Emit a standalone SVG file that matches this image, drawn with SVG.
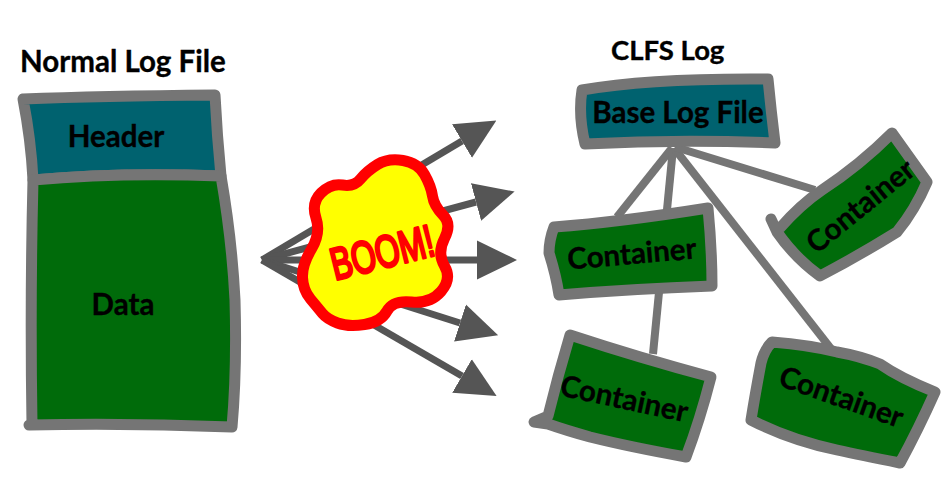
<svg xmlns="http://www.w3.org/2000/svg" width="944" height="494" viewBox="0 0 944 494">
<style>
text{font-family:"Lato","Open Sans","Liberation Sans",sans-serif;font-weight:700;fill:#000;stroke:#000;stroke-width:.35;font-size:29.5px}
.m{text-anchor:middle}
.edge{stroke:#757575;stroke-width:11;stroke-linejoin:round;stroke-linecap:round}
.teal{fill:#00626f}
.green{fill:#006b0a}
.link{stroke:#757575;stroke-width:8;fill:none}
.shot{stroke:#555;stroke-width:7;fill:none;marker-end:url(#head)}
</style>
<defs>
<marker id="head" markerUnits="userSpaceOnUse" markerWidth="40" markerHeight="40" refX="0" refY="20" orient="auto" viewBox="0 0 40 40"><path d="M0 0.5L40 20L0 39.5Z" fill="#555"/></marker>
</defs>
<rect width="944" height="494" fill="#fff"/>
<g id="connectors">
<path class="shot" d="M262 260L462 141"/>
<path class="shot" d="M262 260L476 202"/>
<path class="shot" d="M262 260L477 260"/>
<path class="shot" d="M262 260L460 323"/>
<path class="shot" d="M262 260L462 376"/>
<path class="link" d="M672 148L617 217"/>
<path class="link" d="M673 148L653 354"/>
<path class="link" d="M674 148L832 350"/>
<path class="link" d="M675 147L815 190"/>
</g>
<text x="20" y="72">Normal Log File</text>
<text x="611" y="60" style="font-size:27.5px">CLFS Log</text>
<g id="normal-log-file">
<path class="teal edge" d="M23 99Q100 96 215 95Q217 135 221 176Q120 172 33 180Q31 140 23 99Z"/>
<path class="green edge" d="M33 180Q120 172 221 176Q232 240 235 300Q237 370 232 427Q130 423 29 425L32 425Q30 300 33 180Z"/>
<text class="m" x="116" y="147">Header</text>
<text class="m" x="123" y="315">Data</text>
</g>
<g id="boom">
<path d="M403 160.5Q418 163 424.5 174.5Q431 186 432.5 196Q434 206 443 215Q452 224 444.5 238.5Q437 253 444.5 266Q452 279 441 291.5Q430 304 411.5 302Q393 300 387 311Q381 322 364.5 324.5Q348 327 337.5 323Q327 319 322.5 313.5Q318 308 310.5 299Q303 290 302.5 277.5Q302 265 311.5 249Q321 233 316 218Q311 203 321 193Q331 183 342.5 185Q354 187 360.5 179Q367 171 377.5 164.5Q388 158 403 160.5Z" fill="#ff0" stroke="#f00" stroke-width="11" stroke-linejoin="round"/>
<text class="m" transform="translate(382 252) rotate(-14) scale(.7 1)" y="16" style="font-family:'Liberation Sans',sans-serif;font-weight:400;font-size:45px;fill:#f00;stroke:#f00;stroke-width:3;stroke-linejoin:round">BOOM!</text>
</g>
<g id="base-log-file">
<path class="teal edge" d="M582 90Q650 78 768 79Q771 110 775 143Q680 139 585 144Q578 115 582 90Z"/>
<text class="m" x="678" y="123">Base Log File</text>
</g>
<g id="container-1">
<path class="green edge" d="M554 227Q620 222 708 208Q712 250 712 286Q630 289 559 295Q556 275 549 253Q549 240 554 227Z"/>
<text class="m" transform="translate(632 255) rotate(-5)" y="9">Container</text>
</g>
<g id="container-2">
<path class="green edge" d="M780 228Q800 205 822 190Q860 165 892 133L927 182Q915 210 897 232Q860 255 820 276Q795 258 777 232L771 219"/>
<text class="m" transform="translate(861 207) rotate(-39)" y="9">Container</text>
</g>
<g id="container-3">
<path class="green edge" d="M548 416Q558 375 570 335Q640 358 711 377Q700 420 686 457Q630 447 590 437Q565 430 548 424L534 422L548 416Z"/>
<text class="m" transform="translate(624 400) rotate(12)" y="9">Container</text>
</g>
<g id="container-4">
<path class="green edge" d="M772 342Q810 345 837 352Q860 356 880 364Q900 378 935 392Q918 430 900 463Q860 455 837 450Q790 440 751 420Q755 395 761 363Q764 350 772 342Z"/>
<text class="m" transform="translate(841 398) rotate(19.5)" y="9">Container</text>
</g>
</svg>
